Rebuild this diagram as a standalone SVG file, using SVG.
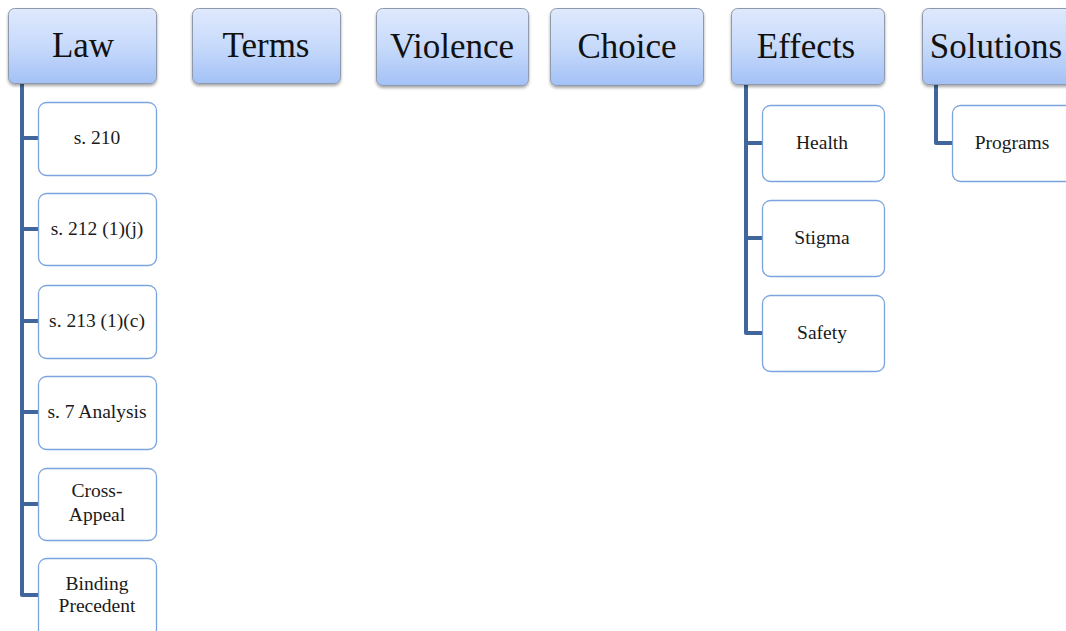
<svg xmlns="http://www.w3.org/2000/svg" width="1066" height="631" viewBox="0 0 1066 631">
<defs>
<linearGradient id="topGrad" x1="0" y1="0" x2="0" y2="1">
<stop offset="0" stop-color="#dfe9fd"/>
<stop offset="0.5" stop-color="#c7dafb"/>
<stop offset="1" stop-color="#a3c1f6"/>
</linearGradient>
<filter id="shadow" x="-10%" y="-10%" width="120%" height="130%">
<feDropShadow dx="0" dy="2" stdDeviation="1.6" flood-color="#000" flood-opacity="0.35"/>
</filter>
</defs>
<style>
.top rect{fill:url(#topGrad);stroke:#8e9aab;stroke-width:1;filter:url(#shadow)}
.top text{font-family:"Liberation Serif","DejaVu Serif",serif;font-size:35px;fill:#111;text-anchor:middle}
.child rect{fill:#fff;stroke:#7ba3dc;stroke-width:1.3}
.child text{font-family:"Liberation Serif","DejaVu Serif",serif;font-size:19.5px;fill:#1a1a1a;text-anchor:middle}
.conn{fill:none;stroke:#41669b;stroke-width:4;stroke-linejoin:round}
</style>
<rect width="1066" height="631" fill="#fff"/>
<g id="connectors">
<path class="conn" d="M22 83 V595 H38 M22 138 H38 M22 229 H38 M22 321 H38 M22 412 H38 M22 504 H38"/>
<path class="conn" d="M746 84 V333 H762 M746 143 H762 M746 238 H762"/>
<path class="conn" d="M936 84 V143 H952"/>
</g>
<g id="law" class="top"><rect x="8.5" y="8.5" width="148" height="75" rx="6"/><text x="83" y="57">Law</text></g>
<g id="terms" class="top"><rect x="192.5" y="8.5" width="148" height="75" rx="6"/><text x="266" y="57">Terms</text></g>
<g id="violence" class="top"><rect x="376.5" y="8.5" width="152" height="77" rx="6"/><text x="452" y="58">Violence</text></g>
<g id="choice" class="top"><rect x="550.5" y="8.5" width="153" height="77" rx="6"/><text x="627" y="58">Choice</text></g>
<g id="effects" class="top"><rect x="731.5" y="8.5" width="153" height="76" rx="6"/><text x="806" y="58">Effects</text></g>
<g id="solutions" class="top"><rect x="922.5" y="8.5" width="160" height="76" rx="6"/><text x="996" y="58">Solutions</text></g>
<g id="s210" class="child"><rect x="38.5" y="102.5" width="118" height="73" rx="8"/><text x="97" y="144">s. 210</text></g>
<g id="s212" class="child"><rect x="38.5" y="193.5" width="118" height="72" rx="8"/><text x="97" y="235">s. 212 (1)(j)</text></g>
<g id="s213" class="child"><rect x="38.5" y="285.5" width="118" height="73" rx="8"/><text x="97" y="327">s. 213 (1)(c)</text></g>
<g id="s7" class="child"><rect x="38.5" y="376.5" width="118" height="73" rx="8"/><text x="97" y="418">s. 7 Analysis</text></g>
<g id="crossappeal" class="child"><rect x="38.5" y="468.5" width="118" height="72" rx="8"/><text x="97" y="497">Cross-</text><text x="97" y="521">Appeal</text></g>
<g id="binding" class="child"><rect x="38.5" y="558.5" width="118" height="80" rx="8"/><text x="97" y="590">Binding</text><text x="97" y="612">Precedent</text></g>
<g id="health" class="child"><rect x="762.5" y="105.5" width="122" height="76" rx="8"/><text x="822" y="149">Health</text></g>
<g id="stigma" class="child"><rect x="762.5" y="200.5" width="122" height="76" rx="8"/><text x="822" y="244">Stigma</text></g>
<g id="safety" class="child"><rect x="762.5" y="295.5" width="122" height="76" rx="8"/><text x="822" y="339">Safety</text></g>
<g id="programs" class="child"><rect x="952.5" y="105.5" width="130" height="76" rx="8"/><text x="1012" y="149">Programs</text></g>
</svg>
